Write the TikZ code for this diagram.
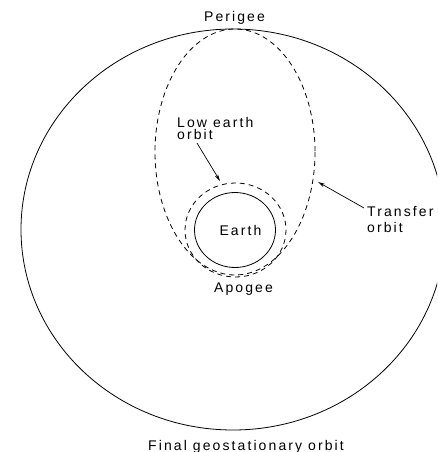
\documentclass[tikz,border=0pt]{standalone}
\usepackage{fontspec}
\usetikzlibrary{arrows.meta}
\newfontfamily\lblfont{Liberation Sans}[LetterSpace=15]
\begin{document}
\begin{tikzpicture}[x=1pt,y=-1pt,
  orbitline/.style={line width=0.8pt,black},
  dashorbit/.style={orbitline,dash pattern=on 5pt off 4pt},
  lbl/.style={inner sep=0pt,font=\lblfont\fontsize{14}{14}\selectfont},
  pointer/.style={line width=0.7pt,-{Stealth[length=7pt,width=3.5pt]}}]
\path[use as bounding box] (0,0) rectangle (437,452);
\begin{scope}
  \clip (0,0) rectangle (437,452);
  \draw[orbitline] (233,229.5) ellipse [x radius=212, y radius=200.5];
\end{scope}
% transfer orbit
\draw[dashorbit] (235,152) ellipse [x radius=80, y radius=123];
% low earth orbit
\draw[dashorbit] (235.5,230) ellipse [x radius=50.5, y radius=47];
% Earth
\draw[orbitline] (235,230) ellipse [x radius=40.5, y radius=37.5];
% labels
\node[lbl,anchor=base] (perigee) at (234.5,22) {Perigee};
\node[lbl,anchor=base] (earth) at (240.5,235) {Earth};
\node[lbl,anchor=base] (apogee) at (243.5,292) {Apogee};
\node[lbl,anchor=base] (final) at (246,450) {Final geostationary orbit};
\node[lbl,anchor=base west] (low1) at (177,127) {Low earth};
\node[lbl,anchor=base west] (low2) at (177,139.5) {orbit};
\node[lbl,anchor=base west] (tr1) at (367,216) {Transfer};
\node[lbl,anchor=base west] (tr2) at (367,232) {orbit};
% arrows
\coordinate (leotip) at (220,181);
\coordinate (trtip) at (318,182);
\coordinate (lowtail) at (197,143);
\coordinate (trtail) at (364,208);
\draw[pointer] (lowtail) -- (leotip);
\draw[pointer] (trtail) -- (trtip);
\end{tikzpicture}
\end{document}
